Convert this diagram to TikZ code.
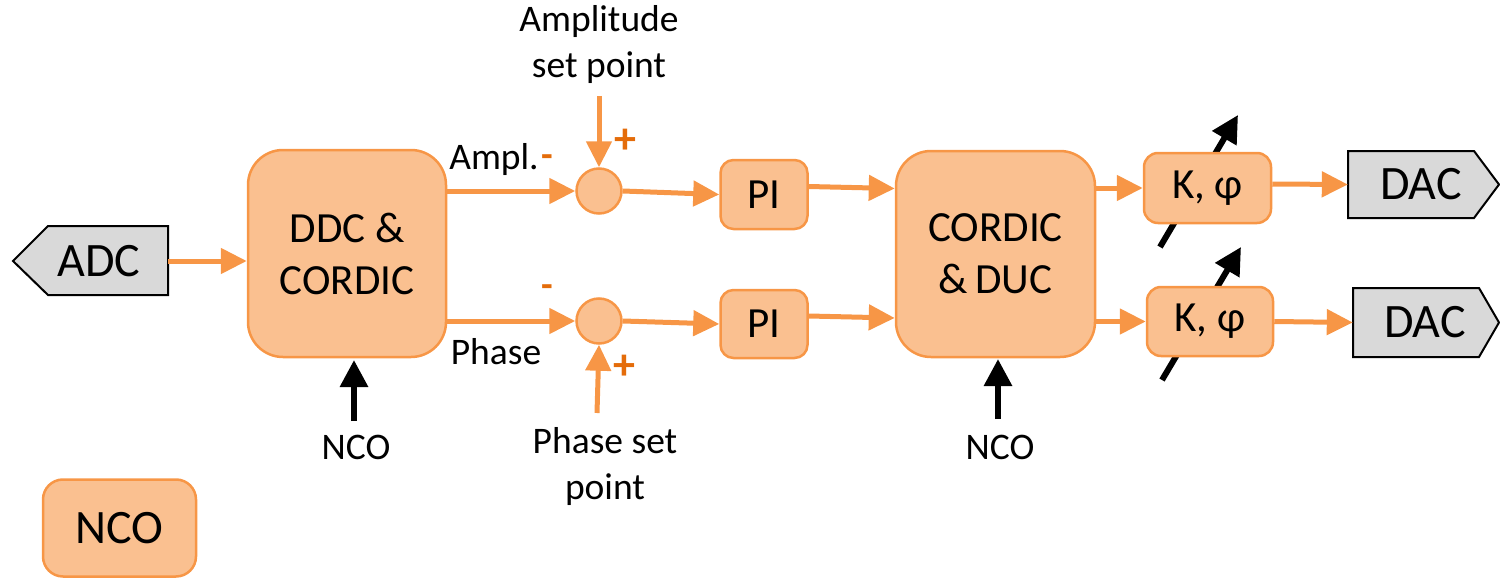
\documentclass[tikz,border=0pt]{standalone}
\usepackage{fontspec}
\setmainfont{Carlito}
\usetikzlibrary{arrows.meta,calc}
\definecolor{ofill}{HTML}{FAC090}
\definecolor{oline}{HTML}{F79646}
\definecolor{osign}{HTML}{E46C0A}
\definecolor{gfill}{HTML}{D9D9D9}
\begin{document}
\begin{tikzpicture}[x=1pt,y=-1pt,
  blk/.style={draw=oline,fill=ofill,line width=2.5pt,rounded corners=#1,align=center,inner sep=0pt},
  blk/.default=13pt,
  sumnode/.style={circle,draw=oline,fill=ofill,line width=2.5pt,minimum size=45pt,inner sep=0pt},
  gshape/.style={draw=black,fill=gfill,line width=2pt},
  oarr/.style={draw=oline,line width=5pt,-{Triangle[length=26pt,width=25pt]}},
  karr/.style={draw=black,line width=6pt,-{Triangle[length=27pt,width=27pt]}},
  lbl/.style={inner sep=0pt,align=center,font=\fontsize{37.5}{46}\selectfont},
  sgnm/.style={inner sep=0pt,text=osign,font=\fontsize{38}{38}\selectfont\bfseries},
  sgnp/.style={inner sep=0pt,text=osign,font=\fontsize{44}{44}\selectfont\bfseries},
  big/.style={font=\fontsize{48}{52}\selectfont},
  mid/.style={font=\fontsize{43}{50}\selectfont},
]
\useasboundingbox (0,0) rectangle (1500,578);

% coordinates for free ends
\coordinate (aspend) at (599,96);
\coordinate (pspend) at (597,413);
\coordinate (n1s) at (354,421);
\coordinate (n1e) at (354,360);
\coordinate (n2s) at (998,419);
\coordinate (n2e) at (998,359);
\coordinate (d1s) at (1160,247);
\coordinate (d1e) at (1238,115);
\coordinate (d2s) at (1162,380);
\coordinate (d2e) at (1241,247);

% black diagonal arrows (behind the K boxes)
\draw[karr] (d1s) -- (d1e);
\draw[karr] (d2s) -- (d2e);

% ADC
\draw[gshape] (13,261) -- (48,226) -- (168,226) -- (168,295) -- (48,295) -- cycle;
\node[inner sep=0pt,minimum width=138pt,minimum height=69pt,big] (adc) at (99,261) {ADC};

% DDC & CORDIC
\node[blk=35pt,minimum width=198pt,minimum height=207pt,mid] (ddc) at (347,253.5) {DDC \&\\[2pt]CORDIC};

% summing nodes
\node[sumnode] (sum1) at (599,191) {};
\node[sumnode] (sum2) at (599,321) {};

% PI blocks
\node[blk=13pt,minimum width=87pt,minimum height=69pt,mid] (pi1) at (764,194.5) {PI};
\node[blk=13pt,minimum width=87pt,minimum height=68pt,mid] (pi2) at (764,324) {PI};

% CORDIC & DUC
\node[blk=35pt,minimum width=199pt,minimum height=206pt,mid] (cduc) at (995.5,254) {CORDIC\\[2pt]\&\,DUC};

% K, phi
\node[blk=14pt,minimum width=127pt,minimum height=70pt,mid] (k1) at (1207.5,188) {K, φ};
\node[blk=14pt,minimum width=126pt,minimum height=69pt,mid] (k2) at (1210,321.5) {K, φ};

% DAC
\draw[gshape] (1348,151) -- (1474,151) -- (1499,184.5) -- (1474,218) -- (1348,218) -- cycle;
\node[inner sep=0pt,minimum width=146pt,minimum height=67pt,big] (dac1) at (1421,184.5) {DAC};
\draw[gshape] (1353,288) -- (1479,288) -- (1499,322.5) -- (1479,357) -- (1353,357) -- cycle;
\node[inner sep=0pt,minimum width=144pt,minimum height=69pt,big] (dac2) at (1425,322.5) {DAC};

% NCO box
\node[blk=20pt,minimum width=153pt,minimum height=97pt,big] (ncobox) at (119.5,528) {NCO};

% labels
\node[lbl] (amplsp) at (599,45) {Amplitude\\set point};
\node[lbl] (phasesp) at (605,466) {Phase set\\point};
\node[lbl] (ampl) at (494,160) {Ampl.};
\node[lbl] (phase) at (496,352) {Phase};
\node[sgnm] (m1) at (547,161) {-};
\node[sgnm] (m2) at (547,291) {-};
\node[sgnp] (p1) at (625.5,141) {+};
\node[sgnp] (p2) at (624.5,367) {+};
\node[lbl] (nco1) at (356,447) {NCO};
\node[lbl] (nco2) at (1000,447) {NCO};

% orange connectors
\draw[oarr] (adc.east) -- (adc.east -| ddc.west);
\draw[oarr] (ddc.east |- sum1.west) -- (sum1.west);
\draw[oarr] (ddc.east |- sum2.west) -- (sum2.west);
\draw[oarr] (sum1.east) -- (pi1.west);
\draw[oarr] (sum2.east) -- (pi2.west);
\draw[oarr] ([yshift=8pt]pi1.east) -- ([yshift=6pt]pi1.east -| cduc.west);
\draw[oarr] ([yshift=8pt]pi2.east) -- ([yshift=6pt]pi2.east -| cduc.west);
\draw[oarr] (cduc.east |- k1.west) -- (k1.west);
\draw[oarr] (cduc.east |- k2.west) -- (k2.west);
\draw[oarr] ([yshift=4pt]k1.east) -- (dac1.west);
\draw[oarr] (k2.east) -- (dac2.west);
\draw[oarr] (aspend) -- (sum1.north);
\draw[oarr] (pspend) -- (sum2.south);

% black NCO arrows
\draw[karr] (n1s) -- (n1e);
\draw[karr] (n2s) -- (n2e);
\end{tikzpicture}
\end{document}
